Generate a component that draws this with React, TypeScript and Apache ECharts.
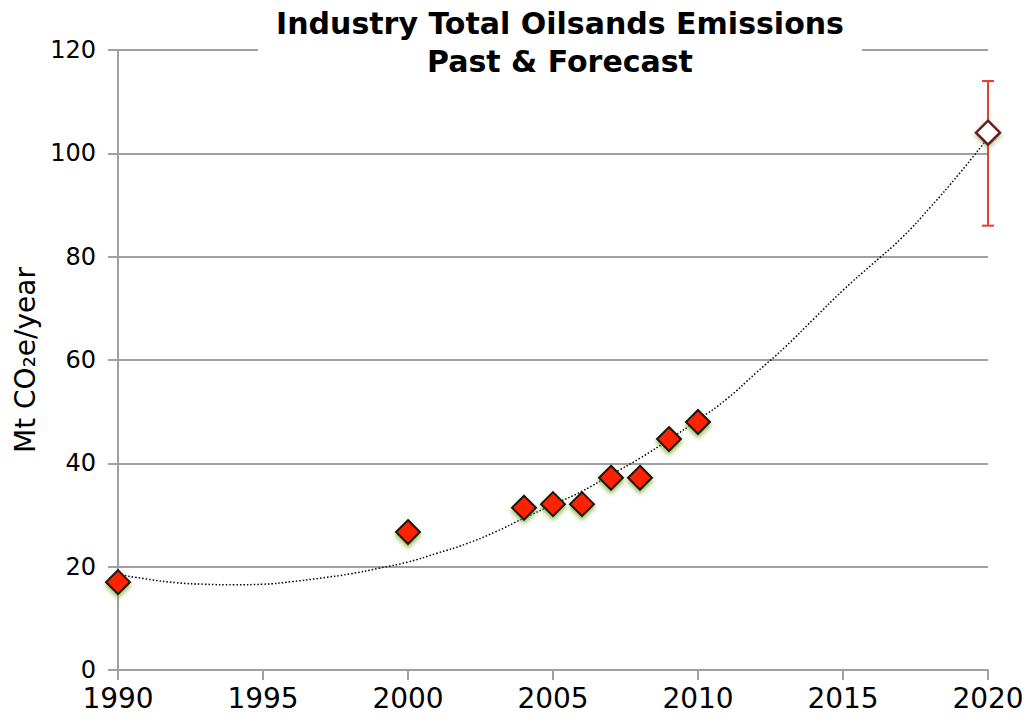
import React, { useEffect, useRef } from "react";
import * as echarts from "echarts";

const years = [1990, 2000, 2004, 2005, 2006, 2007, 2008, 2009, 2010];
const emissions = [17, 26.7, 31.4, 32.1, 32.1, 37.2, 37.2, 44.7, 48];
const forecastYear = 2020;
const forecastValue = 104;
const forecastLow = 86;
const forecastHigh = 114;
const trendYears = [1990, 1991, 1992, 1993, 1994, 1995, 1996, 1997, 1998, 1999, 2000, 2001, 2002, 2003, 2004, 2005, 2006, 2007, 2008, 2009, 2010, 2011, 2012, 2013, 2014, 2015, 2016, 2017, 2018, 2019, 2020];
const trendValues = [18.5, 17.6, 16.9, 16.6, 16.5, 16.6, 17.1, 17.8, 18.6, 19.7, 20.9, 22.6, 24.4, 26.7, 29.4, 32.0, 34.6, 37.8, 41.0, 44.6, 48.4, 52.5, 57.5, 62.5, 68.0, 73.5, 78.5, 83.5, 89.5, 96.0, 103.0];
const titleLines = ["Industry Total Oilsands Emissions", "Past & Forecast"];
const yAxisName = "Mt CO₂e/year";

export default function App() {
  const ref = useRef<HTMLDivElement>(null);
  useEffect(() => {
    if (!ref.current) return;
    const chart = echarts.init(ref.current, undefined, { renderer: "svg" });
    const axisGray = "#a0a0a0";
    chart.setOption({
      animation: false,
      backgroundColor: "#ffffff",
      title: {
        text: titleLines.join("\n"),
        left: 542,
        textAlign: "center",
        top: 4,
        backgroundColor: "#ffffff",
        padding: [0, 18, 6, 18],
        textStyle: {
          fontFamily: "DejaVu Sans",
          fontWeight: "bold",
          fontSize: 30,
          lineHeight: 38,
          color: "#000",
        },
        z: 10,
      },
      grid: { left: 118, right: 40, top: 50, bottom: 55 },
      xAxis: {
        type: "value",
        min: 1990,
        max: 2020,
        interval: 5,
        axisLine: { show: true, lineStyle: { color: axisGray, width: 2 } },
        axisTick: { show: true, inside: false, length: 10, lineStyle: { color: axisGray, width: 2 } },
        splitLine: { show: false },
        axisLabel: {
          color: "#000",
          fontFamily: "DejaVu Sans",
          fontSize: 28,
          margin: 14,
          formatter: (v: number) => String(v),
        },
      },
      yAxis: {
        type: "value",
        min: 0,
        max: 120,
        interval: 20,
        name: yAxisName,
        nameLocation: "middle",
        nameGap: 76,
        nameRotate: 90,
        nameTextStyle: { color: "#000", fontFamily: "DejaVu Sans", fontSize: 28 },
        axisLine: { show: true, lineStyle: { color: axisGray, width: 2 } },
        axisTick: { show: true, inside: false, length: 10, lineStyle: { color: axisGray, width: 2 } },
        splitLine: { show: true, lineStyle: { color: axisGray, width: 2 } },
        axisLabel: { color: "#000", fontFamily: "DejaVu Sans", fontSize: 24, margin: 22 },
      },
      series: [
        {
          type: "line",
          name: "trend",
          data: trendYears.map((y, i) => [y, trendValues[i]]),
          smooth: true,
          symbol: "none",
          lineStyle: { color: "#000", width: 1.5, type: [1.5, 2] },
          z: 2,
        },
        {
          type: "custom",
          name: "error",
          data: [[forecastYear, forecastLow, forecastHigh]],
          renderItem: (params: any, api: any) => {
            const x = api.value(0);
            const lo = api.coord([x, api.value(1)]);
            const hi = api.coord([x, api.value(2)]);
            const cap = 6;
            const style = { stroke: "#e8402f", lineWidth: 2 };
            return {
              type: "group",
              children: [
                { type: "line", shape: { x1: lo[0], y1: lo[1], x2: hi[0], y2: hi[1] }, style },
                { type: "line", shape: { x1: lo[0] - cap, y1: lo[1], x2: lo[0] + cap, y2: lo[1] }, style },
                { type: "line", shape: { x1: hi[0] - cap, y1: hi[1], x2: hi[0] + cap, y2: hi[1] }, style },
              ],
            };
          },
          z: 3,
        },
        {
          type: "scatter",
          name: "emissions",
          data: years.map((y, i) => [y, emissions[i]]),
          symbol: "diamond",
          symbolSize: [24, 24],
          itemStyle: {
            color: "#ff2000",
            borderColor: "#151515",
            borderWidth: 2,
            opacity: 1,
            shadowColor: "rgba(110,160,30,0.7)",
            shadowBlur: 4,
            shadowOffsetY: 3,
          },
          z: 4,
        },
        {
          type: "scatter",
          name: "forecast",
          data: [[forecastYear, forecastValue]],
          symbol: "diamond",
          symbolSize: [24, 24],
          itemStyle: {
            color: "#ffffff",
            borderColor: "#6b1f1a",
            borderWidth: 2.5,
            opacity: 1,
            shadowColor: "rgba(110,140,60,0.6)",
            shadowBlur: 4,
            shadowOffsetY: 2,
          },
          z: 5,
        },
      ],
    });
    return () => chart.dispose();
  }, []);
  return <div ref={ref} style={{ position: "fixed", left: 0, top: 0, width: 1028, height: 725 }} />;
}
